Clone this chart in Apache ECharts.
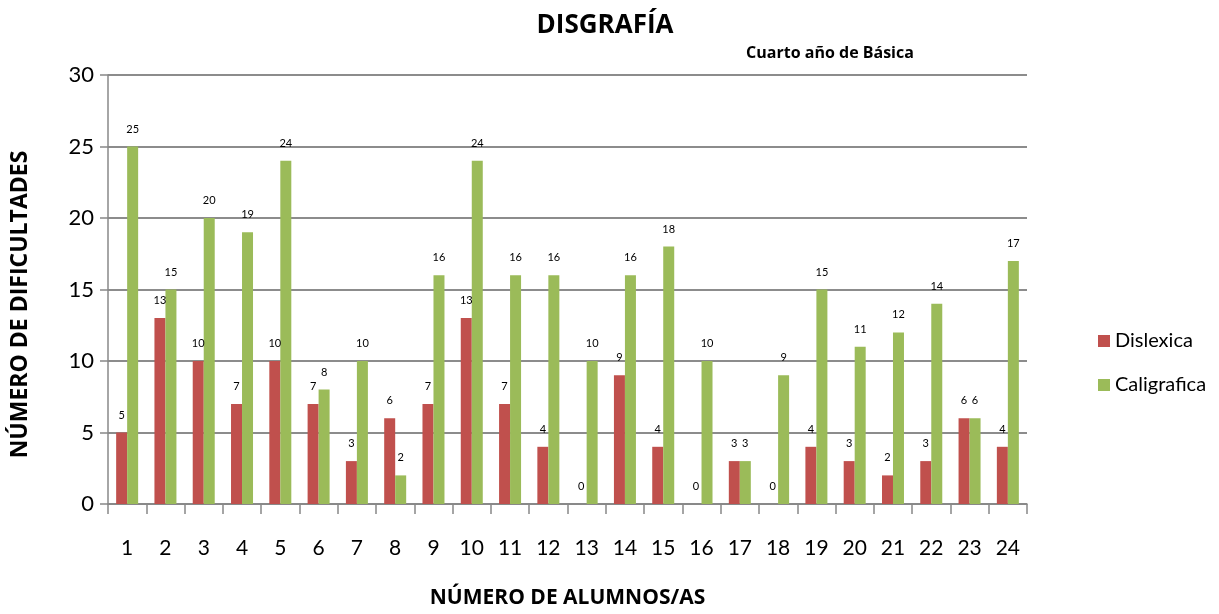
<!DOCTYPE html>
<html lang="es">
<head>
    <meta charset="UTF-8">
    <title>Disgrafía</title>
    <style>
        html, body { margin: 0; padding: 0; background: #fff; }
        #chart1 { width: 1219px; height: 614px; }
    </style>
</head>
<body>
    <div id="chart1"></div>

    <script src="https://cdn.jsdelivr.net/npm/echarts@6/dist/echarts.min.js"></script>
    <script>
        // datos
        var alumnos = ['1','2','3','4','5','6','7','8','9','10','11','12','13','14','15','16','17','18','19','20','21','22','23','24'];
        var dislexica = [5,13,10,7,10,7,3,6,7,13,7,4,0,9,4,0,3,0,4,3,2,3,6,4];
        var caligrafica = [25,15,20,19,24,8,10,2,16,24,16,16,10,16,18,10,3,9,15,11,12,14,6,17];
        var yTicks = [0, 5, 10, 15, 20, 25, 30];

        var fuente = 'Lato, "Open Sans", sans-serif';
        var fuenteTit = '"Open Sans", sans-serif';

        var myChart = echarts.init(document.getElementById('chart1'));

        var etiqueta = {
            show: true,
            position: 'top',
            distance: 12,
            color: '#000',
            fontSize: 11,
            fontFamily: fuente
        };

        var option = {
            animation: false,
            textStyle: { fontFamily: fuente },
            title: [
                {
                    text: 'DISGRAFÍA',
                    left: 600, top: 8,
                    textAlign: 'center',
                    textStyle: { fontSize: 26, fontWeight: 'bold', color: '#000', fontFamily: fuenteTit }
                },
                {
                    text: 'Cuarto año de Básica',
                    left: 825, top: 40,
                    textAlign: 'center',
                    textStyle: { fontSize: 16, fontWeight: 'bold', color: '#000', fontFamily: fuenteTit }
                }
            ],
            legend: {
                orient: 'vertical',
                left: 1093,
                top: 326,
                itemWidth: 12,
                itemHeight: 12,
                itemGap: 24,
                icon: 'rect',
                textStyle: { fontSize: 20, color: '#000', fontFamily: fuente }
            },
            grid: {
                left: 108,
                right: 192,
                top: 75,
                bottom: 109,
                containLabel: false
            },
            xAxis: {
                type: 'category',
                data: alumnos,
                name: 'NÚMERO DE ALUMNOS/AS',
                nameLocation: 'middle',
                nameGap: 84,
                nameTextStyle: { fontSize: 21, fontWeight: 'bold', color: '#000', fontFamily: fuenteTit },
                axisLine: { lineStyle: { color: '#888', width: 1.5 } },
                axisTick: { show: true, alignWithLabel: false, length: 10, lineStyle: { color: '#888', width: 1.5 } },
                axisLabel: { fontSize: 21, color: '#000', margin: 34 }
            },
            yAxis: {
                type: 'value',
                min: yTicks[0],
                max: yTicks[yTicks.length - 1],
                interval: 5,
                name: 'NÚMERO DE DIFICULTADES',
                nameLocation: 'middle',
                nameGap: 76,
                nameRotate: 90,
                nameTextStyle: { fontSize: 23, fontWeight: 'bold', color: '#000', fontFamily: fuenteTit, padding: [0, 30, 0, 0] },
                axisLine: { show: true, lineStyle: { color: '#888', width: 1.5 } },
                axisTick: { show: true, length: 8, lineStyle: { color: '#888', width: 1.5 } },
                axisLabel: { fontSize: 22, color: '#000', margin: 14 },
                splitLine: { show: true, lineStyle: { color: '#8c8c8c', width: 2 } }
            },
            series: [
                {
                    name: 'Dislexica',
                    type: 'bar',
                    data: dislexica,
                    itemStyle: { color: '#C0504D' },
                    barWidth: 11,
                    barGap: '0%',
                    label: etiqueta
                },
                {
                    name: 'Caligrafica',
                    type: 'bar',
                    data: caligrafica,
                    itemStyle: { color: '#9BBB59' },
                    barWidth: 11,
                    barGap: '0%',
                    label: etiqueta
                }
            ]
        };

        myChart.setOption(option);
    </script>
</body>
</html>
